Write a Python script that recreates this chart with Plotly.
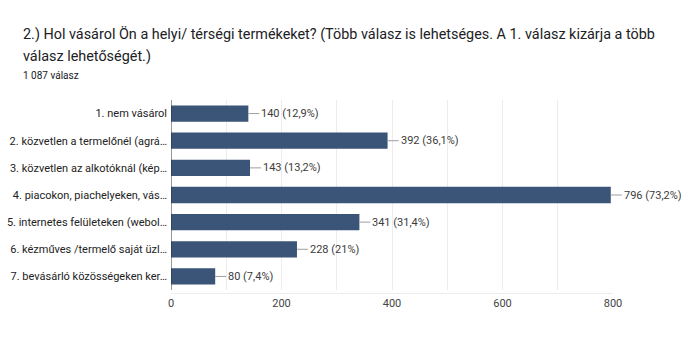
import plotly.graph_objects as go

categories = [
    "1. nem vásárol",
    "2. közvetlen a termelőnél (agrá…",
    "3. közvetlen az alkotóknál (kép…",
    "4. piacokon, piachelyeken, vás…",
    "5. internetes felületeken (webol…",
    "6. kézműves /termelő saját üzl…",
    "7. bevásárló közösségeken ker…",
]
counts = [140, 392, 143, 796, 341, 228, 80]
percents = ["12,9%", "36,1%", "13,2%", "73,2%", "31,4%", "21%", "7,4%"]
tick_vals = [0, 200, 400, 600, 800]

title_lines = [
    "2.) Hol vásárol Ön a helyi/ térségi termékeket? (Több válasz is lehetséges. A 1. válasz kizárja a több",
    "válasz lehetőségét.)",
]
subtitle = "1 087 válasz"

W, H = 681, 346
ml, mr, mt, mb = 171, 68, 100, 56
pw = W - ml - mr
ph = H - mt - mb

fig = go.Figure()
fig.add_trace(go.Bar(
    x=counts, y=categories, orientation="h",
    marker=dict(color="#3a5577", line=dict(width=0)),
    hoverinfo="skip",
))

annotations = []
for c, cat, p in zip(counts, categories, percents):
    annotations.append(dict(
        x=c, y=cat, xref="x", yref="y",
        text=f"{c} ({p})", showarrow=True, arrowhead=0, arrowwidth=1,
        arrowcolor="#9e9e9e", ax=11, ay=0, xanchor="left",
        font=dict(family="Roboto, Arial, sans-serif", size=11, color="#3c3c3c"),
    ))

def py(ypix):
    return 1 + (mt - ypix) / ph

def px(xpix):
    return (xpix - ml) / pw

annotations.append(dict(xref="paper", yref="paper", x=px(21), y=py(34), xanchor="left", yanchor="middle",
                        text=title_lines[0], showarrow=False,
                        font=dict(family="Roboto, Arial, sans-serif", size=14.4, color="#202124")))
annotations.append(dict(xref="paper", yref="paper", x=px(21), y=py(57), xanchor="left", yanchor="middle",
                        text=title_lines[1], showarrow=False,
                        font=dict(family="Roboto, Arial, sans-serif", size=14.4, color="#202124")))
annotations.append(dict(xref="paper", yref="paper", x=px(21), y=py(75), xanchor="left", yanchor="middle",
                        text=subtitle, showarrow=False,
                        font=dict(family="Roboto, Arial, sans-serif", size=10, color="#202124")))

fig.update_layout(
    width=W, height=H,
    margin=dict(l=ml, r=mr, t=mt, b=mb, pad=3),
    paper_bgcolor="white", plot_bgcolor="white",
    bargap=0.4,
    showlegend=False,
    annotations=annotations,
    font=dict(family="Roboto, Arial, sans-serif", size=11, color="#333333"),
)
fig.update_xaxes(
    range=[0, 800], tickvals=tick_vals, showgrid=True, gridcolor="#ececec", gridwidth=1,
    minor=dict(dtick=100, showgrid=True, gridcolor="#ececec", gridwidth=1),
    zeroline=False, showline=True, linecolor="#ececec", mirror=False,
    tickfont=dict(size=11, color="#444444"), ticks="", ticklen=0, automargin=False,
)
fig.update_yaxes(
    autorange="reversed", showgrid=False, zeroline=False, automargin=False,
    showline=False, ticks="", tickfont=dict(size=11, color="#222222"),
)
fig.add_vline(x=0, line=dict(color="#333333", width=1))

fig.write_html("out.html")
